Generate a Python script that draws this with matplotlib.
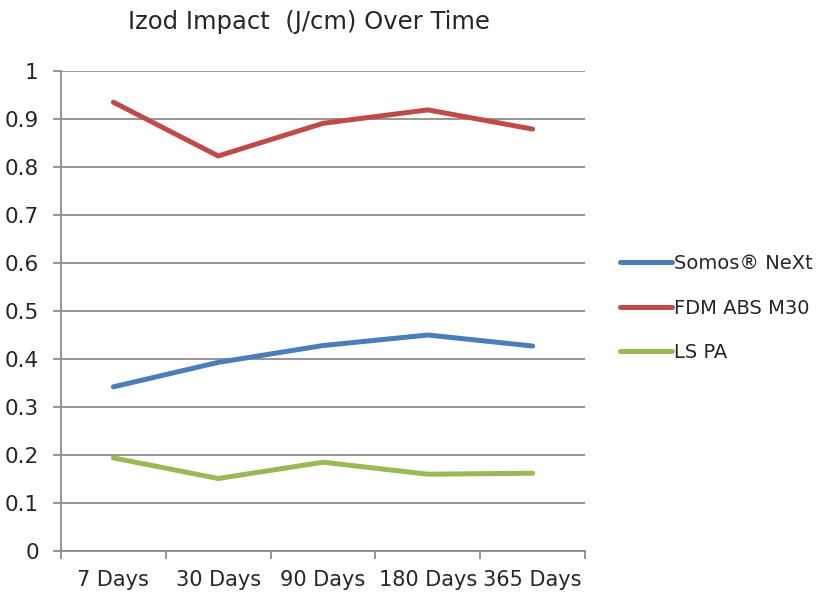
import matplotlib
matplotlib.use("Agg")
import matplotlib.pyplot as plt
import numpy as np

# Data
categories = ['7 Days', '30 Days', '90 Days', '180 Days', '365 Days']
somos_next = [0.342, 0.393, 0.428, 0.450, 0.427]
fdm_abs_m30 = [0.935, 0.823, 0.891, 0.919, 0.879]
ls_pa = [0.194, 0.151, 0.185, 0.160, 0.162]

series_names = ['Somos® NeXt', 'FDM ABS M30', 'LS PA']
series_colors = ['#4A7EBB', '#BE4B48', '#98B954']

plt.rcParams['font.family'] = ['DejaVu Sans']
text_color = '#262626'
grid_color = '#8C8C8C'

fig = plt.figure(figsize=(8.25, 5.97), dpi=100)
ax = fig.add_axes([61 / 825, 1 - 551 / 597, (585 - 61) / 825, (551 - 71) / 597])

x = np.arange(len(categories))
for vals, name, col in zip([somos_next, fdm_abs_m30, ls_pa], series_names, series_colors):
    ax.plot(x, vals, color=col, linewidth=3.6, label=name, solid_capstyle='round')

ax.set_xlim(-0.5, len(categories) - 0.5)
ax.set_ylim(0, 1)
ax.set_yticks(np.arange(0, 1.01, 0.1))
ax.set_yticklabels(['0'] + ['%.1f' % v for v in np.arange(0.1, 0.95, 0.1)] + ['1'])
ax.set_xticks(x)
ax.set_xticklabels(categories)
ax.set_xticks(np.arange(-0.5, len(categories), 1), minor=True)

ax.yaxis.grid(True, color=grid_color, linewidth=1.3)
ax.set_axisbelow(True)
for s in ['top', 'right']:
    ax.spines[s].set_visible(False)
for s in ['left', 'bottom']:
    ax.spines[s].set_color(grid_color)
    ax.spines[s].set_linewidth(1.3)

ax.tick_params(axis='y', length=6, width=1.3, color=grid_color, pad=10,
               labelsize=15.5, labelcolor=text_color)
ax.tick_params(axis='x', which='major', length=0, pad=14,
               labelsize=15, labelcolor=text_color)
ax.tick_params(axis='x', which='minor', length=6, width=1.3, color=grid_color)

fig.text(309 / 825, 1 - 22 / 597, 'Izod Impact  (J/cm) Over Time', ha='center', va='center',
         fontsize=17.5, color=text_color)

leg = fig.legend(loc='center left', bbox_to_anchor=(602 / 825, 1 - 308 / 597), frameon=False,
                 fontsize=14, handlelength=2.7, handletextpad=0.1, labelspacing=1.3,
                 labelcolor=text_color)

plt.savefig('out.png', dpi=100)
